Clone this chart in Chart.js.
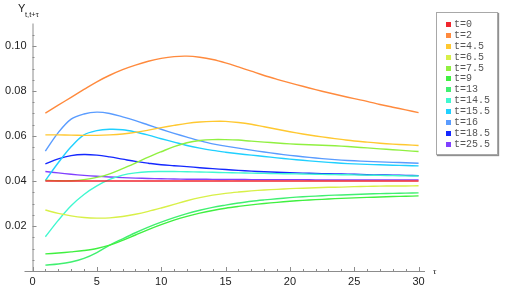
<!DOCTYPE html>
<html>
<head>
<meta charset="utf-8">
<script src="https://cdn.jsdelivr.net/npm/chart.js@4.4.0/dist/chart.umd.min.js"></script>
<style>
  body { margin: 0; background: #fff; }
  #wrap { position: relative; width: 510px; height: 290px; }
  #legend {
    position: absolute; left: 436px; top: 12px; width: 62px; height: 143px;
    box-sizing: border-box; border: 1px solid #a8a8a8; box-shadow: 1px 1px 1px #909090;
    background: #fff; padding-top: 6px;
    font-family: "Liberation Mono", "DejaVu Sans Mono", monospace; font-size: 10px; color: #555;
  }
  .row { height: 10.9px; display: flex; align-items: center; }
  .sw { width: 5px; height: 5px; margin-left: 9px; margin-right: 3px; }
</style>
</head>
<body>
<div id="wrap">
  <canvas id="myChart" width="510" height="290"></canvas>
  <div id="legend"></div>
</div>
<script>
// data
const tau = [1, 2, 3, 4, 5, 6, 7, 8, 9, 10, 11, 12, 13, 14, 15, 16, 17, 18, 19, 20, 21, 22, 23, 24, 25, 26, 27, 28, 29, 30];
const seriesLabels = ['t=0', 't=2', 't=4.5', 't=6.5', 't=7.5', 't=9', 't=13', 't=14.5', 't=15.5', 't=16', 't=18.5', 't=25.5'];

const yT0 = [0.0400, 0.0400, 0.0400, 0.0400, 0.0400, 0.0400, 0.0400, 0.0400, 0.0400, 0.0400, 0.0400, 0.0400, 0.0400, 0.0400, 0.0400, 0.0400, 0.0400, 0.0400, 0.0400, 0.0400, 0.0400, 0.0400, 0.0400, 0.0400, 0.0400, 0.0400, 0.0400, 0.0400, 0.0400, 0.0400];
const yT2 = [0.0702, 0.0737, 0.0772, 0.0807, 0.0841, 0.0870, 0.0895, 0.0915, 0.0932, 0.0945, 0.0953, 0.0955, 0.0950, 0.0940, 0.0925, 0.0907, 0.0888, 0.0869, 0.0852, 0.0836, 0.0821, 0.0806, 0.0792, 0.0779, 0.0766, 0.0754, 0.0740, 0.0728, 0.0716, 0.0704];
const yT45 = [0.0605, 0.0605, 0.0604, 0.0603, 0.0603, 0.0605, 0.0609, 0.0616, 0.0626, 0.0637, 0.0647, 0.0656, 0.0662, 0.0665, 0.0665, 0.0660, 0.0652, 0.0641, 0.0630, 0.0619, 0.0609, 0.0600, 0.0592, 0.0585, 0.0578, 0.0573, 0.0568, 0.0564, 0.0561, 0.0558];
const yT65 = [0.0271, 0.0256, 0.0245, 0.0238, 0.0235, 0.0236, 0.0242, 0.0252, 0.0265, 0.0280, 0.0296, 0.0312, 0.0326, 0.0337, 0.0345, 0.0351, 0.0356, 0.0360, 0.0363, 0.0366, 0.0368, 0.0370, 0.0372, 0.0373, 0.0375, 0.0376, 0.0377, 0.0378, 0.0378, 0.0379];
const yT75 = [0.0404, 0.0401, 0.0401, 0.0406, 0.0416, 0.0432, 0.0455, 0.0480, 0.0506, 0.0530, 0.0553, 0.0570, 0.0580, 0.0584, 0.0584, 0.0582, 0.0577, 0.0573, 0.0569, 0.0565, 0.0562, 0.0560, 0.0558, 0.0555, 0.0551, 0.0547, 0.0543, 0.0539, 0.0535, 0.0531];
const yT9 = [0.0076, 0.0080, 0.0085, 0.0091, 0.0100, 0.0115, 0.0136, 0.0160, 0.0184, 0.0206, 0.0226, 0.0243, 0.0257, 0.0269, 0.0279, 0.0287, 0.0294, 0.0300, 0.0305, 0.0310, 0.0314, 0.0317, 0.0320, 0.0323, 0.0325, 0.0327, 0.0329, 0.0331, 0.0332, 0.0334];
const yT13 = [0.0026, 0.0031, 0.0040, 0.0056, 0.0082, 0.0115, 0.0143, 0.0170, 0.0195, 0.0217, 0.0237, 0.0255, 0.0270, 0.0283, 0.0293, 0.0302, 0.0310, 0.0316, 0.0321, 0.0326, 0.0330, 0.0333, 0.0336, 0.0338, 0.0340, 0.0342, 0.0344, 0.0345, 0.0346, 0.0347];
const yT145 = [0.0152, 0.0225, 0.0290, 0.0340, 0.0378, 0.0407, 0.0426, 0.0436, 0.0441, 0.0442, 0.0442, 0.0441, 0.0440, 0.0439, 0.0437, 0.0436, 0.0435, 0.0434, 0.0433, 0.0432, 0.0431, 0.0430, 0.0429, 0.0428, 0.0427, 0.0426, 0.0425, 0.0424, 0.0423, 0.0422];
const yT155 = [0.0402, 0.0481, 0.0552, 0.0605, 0.0624, 0.0630, 0.0628, 0.0618, 0.0604, 0.0588, 0.0573, 0.0558, 0.0546, 0.0536, 0.0528, 0.0521, 0.0515, 0.0509, 0.0503, 0.0497, 0.0492, 0.0487, 0.0483, 0.0479, 0.0476, 0.0474, 0.0472, 0.0470, 0.0469, 0.0467];
const yT16 = [0.0533, 0.0615, 0.0675, 0.0698, 0.0706, 0.0700, 0.0685, 0.0668, 0.0649, 0.0630, 0.0612, 0.0595, 0.0579, 0.0565, 0.0555, 0.0546, 0.0537, 0.0529, 0.0521, 0.0514, 0.0508, 0.0502, 0.0497, 0.0493, 0.0490, 0.0487, 0.0485, 0.0483, 0.0481, 0.0479];
const yT185 = [0.0476, 0.0498, 0.0513, 0.0518, 0.0515, 0.0507, 0.0497, 0.0487, 0.0479, 0.0472, 0.0468, 0.0464, 0.0459, 0.0455, 0.0451, 0.0447, 0.0444, 0.0441, 0.0439, 0.0437, 0.0435, 0.0434, 0.0432, 0.0431, 0.0430, 0.0428, 0.0427, 0.0426, 0.0425, 0.0424];
const yT255 = [0.0442, 0.0436, 0.0430, 0.0425, 0.0421, 0.0418, 0.0415, 0.0413, 0.0411, 0.0410, 0.0409, 0.0408, 0.0408, 0.0407, 0.0407, 0.0407, 0.0406, 0.0406, 0.0406, 0.0406, 0.0406, 0.0405, 0.0405, 0.0405, 0.0405, 0.0405, 0.0405, 0.0405, 0.0405, 0.0405];

const xTicks = [0, 5, 10, 15, 20, 25, 30];
const yTicks = [0.02, 0.04, 0.06, 0.08, 0.10];

const seriesValues = [yT0, yT2, yT45, yT65, yT75, yT9, yT13, yT145, yT155, yT16, yT185, yT255];
const seriesColors = ['#f0262e', '#ff8a3d', '#ffc830', '#d8f048', '#90f040', '#40f040', '#40f070', '#40f8d0', '#20d0ff', '#5a9cff', '#1428ff', '#8040ff'];

const axisColor = '#8c8c8c';

// axis lines and inward ticks, drawn with the scales
const axesPlugin = {
    id: 'axesPlugin',
    afterDraw(chart) {
        const ctx = chart.ctx;
        const area = chart.chartArea;
        const xs = chart.scales.x;
        const ys = chart.scales.y;
        ctx.save();
        ctx.strokeStyle = axisColor;
        ctx.lineWidth = 1;
        ctx.beginPath();
        ctx.moveTo(area.left - 8, area.bottom + 0.5);
        ctx.lineTo(area.right, area.bottom + 0.5);
        ctx.moveTo(area.left + 0.5, area.top);
        ctx.lineTo(area.left + 0.5, area.bottom);
        ctx.stroke();

        ctx.beginPath();
        for (let v = 0; v <= 30; v += 1) {
            const px = Math.round(xs.getPixelForValue(v)) + 0.5;
            const len = v % 5 === 0 ? 4 : 2;
            ctx.moveTo(px, area.bottom);
            ctx.lineTo(px, area.bottom - len);
        }
        for (let k = 1; k <= 21; k++) {
            const v = k * 0.005;
            const py = Math.round(ys.getPixelForValue(v)) + 0.5;
            const len = k % 4 === 0 ? 4 : 2;
            ctx.moveTo(area.left, py);
            ctx.lineTo(area.left + len, py);
        }
        ctx.stroke();

        // axis labels
        ctx.fillStyle = '#222';
        ctx.textBaseline = 'alphabetic';
        ctx.font = '11px "Liberation Sans", Arial, sans-serif';
        ctx.fillText('Y', 18, 12);
        ctx.font = '7.5px "Liberation Sans", Arial, sans-serif';
        ctx.fillText('t,t+\u03c4', 25, 16.5);
        ctx.font = 'italic 9px "Liberation Serif", serif';
        ctx.fillText('\u03c4', area.right + 8, area.bottom + 3);
        ctx.restore();
    }
};

const ctx = document.querySelector('#myChart');
const myChart = new Chart(ctx, {
    type: 'line',
    data: {
        datasets: seriesLabels.map((label, i) => ({
            label: label,
            data: tau.map((x, j) => ({ x: x, y: seriesValues[i][j] })),
            borderColor: seriesColors[i],
            backgroundColor: seriesColors[i],
            borderWidth: 1.4,
            pointRadius: 0,
            tension: 0.35,
            fill: false,
        })),
    },
    options: {
        responsive: false,
        animation: false,
        events: [],
        layout: { padding: { top: 23.5, right: 85, left: 0, bottom: 0 } },
        scales: {
            x: {
                type: 'linear',
                min: 0,
                max: 30.5,
                grid: { display: false, drawTicks: false },
                border: { display: false },
                afterBuildTicks: (scale) => { scale.ticks = xTicks.map(v => ({ value: v })); },
                afterFit: (scale) => { scale.height = 19; },
                ticks: {
                    padding: 4,
                    maxRotation: 0,
                    color: '#222',
                    font: { family: '"Liberation Sans", Arial, sans-serif', size: 11 },
                    callback: (v) => String(v),
                },
            },
            y: {
                min: 0,
                max: 0.11,
                grid: { display: false, drawTicks: false },
                border: { display: false },
                afterBuildTicks: (scale) => { scale.ticks = yTicks.map(v => ({ value: v })); },
                afterFit: (scale) => { scale.width = 32.5; },
                ticks: {
                    padding: 6,
                    color: '#222',
                    font: { family: '"Liberation Sans", Arial, sans-serif', size: 11 },
                    callback: (v) => v.toFixed(2),
                },
            },
        },
        plugins: {
            legend: { display: false },
            tooltip: { enabled: false },
        },
    },
    plugins: [axesPlugin],
});

// html legend built from the datasets
const legendBox = document.getElementById('legend');
myChart.data.datasets.forEach((ds) => {
    const row = document.createElement('div');
    row.className = 'row';
    row.innerHTML = `<span class="sw" style="background:${ds.borderColor}"></span><span>${ds.label}</span>`;
    legendBox.appendChild(row);
});
</script>
</body>
</html>
